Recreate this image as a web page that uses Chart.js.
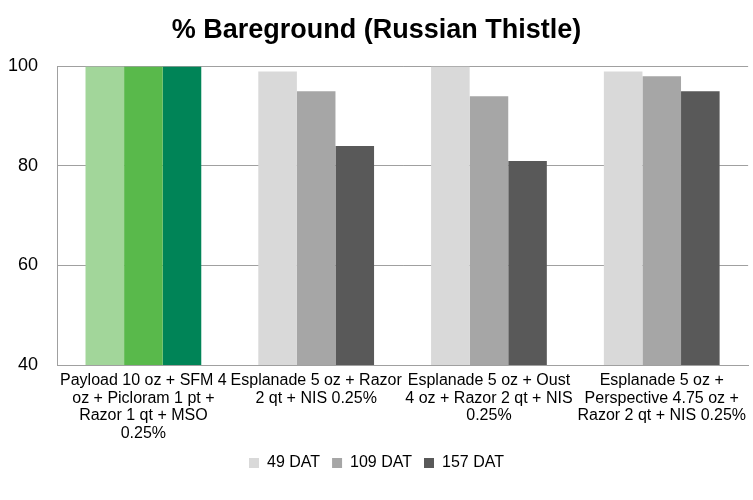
<!DOCTYPE html>
<html>
<head>
<meta charset="utf-8">
<script src="https://cdn.jsdelivr.net/npm/chart.js@4/dist/chart.umd.min.js"></script>
<style>
  html, body { margin: 0; padding: 0; background: #fff; }
  #wrap { width: 753px; height: 500px; }
</style>
</head>
<body>
<div id="wrap"><canvas id="chart" width="753" height="500"></canvas></div>
<script>
const categories = [
  ["Payload 10 oz + SFM 4", "oz + Picloram 1 pt +", "Razor 1 qt + MSO", "0.25%"],
  ["Esplanade 5 oz + Razor", "2 qt + NIS 0.25%"],
  ["Esplanade 5 oz + Oust", "4 oz + Razor 2 qt + NIS", "0.25%"],
  ["Esplanade 5 oz +", "Perspective 4.75 oz +", "Razor 2 qt + NIS 0.25%"],
];
const seriesNames = ["49 DAT", "109 DAT", "157 DAT"];
const dat49 = [100, 99, 100, 99];
const dat109 = [100, 95, 94, 98];
const dat157 = [100, 84, 81, 95];
const yTicks = [40, 60, 80, 100];

// first group is drawn in greens, the rest (and the legend) in greys
const greys = ["#d9d9d9", "#a6a6a6", "#595959"];
const greens = ["#a2d69a", "#59b94b", "#008457"];
const font = "'Liberation Sans', Arial, sans-serif";
const gridColor = "#a0a0a0";

const datasets = [dat49, dat109, dat157].map((values, i) => ({
  label: seriesNames[i],
  data: values,
  backgroundColor: values.map((v, j) => (j === 0 ? greens[i] : greys[i])),
  borderWidth: 0,
  categoryPercentage: 0.67,
  barPercentage: 1.0,
}));

new Chart(document.getElementById("chart"), {
  type: "bar",
  data: { labels: categories, datasets },
  options: {
    responsive: false,
    animation: false,
    layout: { padding: { left: 0, right: 0, top: 0, bottom: 19 } },
    scales: {
      x: {
        grid: { display: false, drawTicks: false },
        border: { display: true, color: gridColor, width: 1 },
        ticks: {
          color: "#000",
          font: { family: font, size: 16, lineHeight: 1.1 },
          padding: 7,
          maxRotation: 0,
          minRotation: 0,
          autoSkip: false,
        },
        afterFit: (scale) => { scale.height = 78; },
      },
      y: {
        min: 40,
        max: 100,
        afterBuildTicks: (scale) => {
          scale.ticks = yTicks.map((v) => ({ value: v }));
        },
        grid: { color: gridColor, lineWidth: 1, drawTicks: false },
        border: { display: true, color: gridColor, width: 1 },
        ticks: {
          color: "#000",
          font: { family: font, size: 18 },
          padding: 19,
        },
        afterFit: (scale) => { scale.width = 57; },
      },
    },
    plugins: {
      title: {
        display: true,
        text: "% Bareground (Russian Thistle)",
        color: "#000",
        font: { family: font, size: 27, weight: "bold", lineHeight: 1.2 },
        padding: { top: 14, bottom: 20 },
      },
      legend: {
        position: "bottom",
        labels: {
          color: "#000",
          font: { family: font, size: 16 },
          boxWidth: 10,
          boxHeight: 10,
          padding: 12,
          generateLabels: (chart) =>
            chart.data.datasets.map((ds, i) => ({
              text: ds.label,
              fillStyle: greys[i],
              strokeStyle: greys[i],
              lineWidth: 0,
              hidden: false,
              datasetIndex: i,
              fontColor: "#000",
            })),
        },
      },
      tooltip: { enabled: false },
    },
  },
});
</script>
</body>
</html>
